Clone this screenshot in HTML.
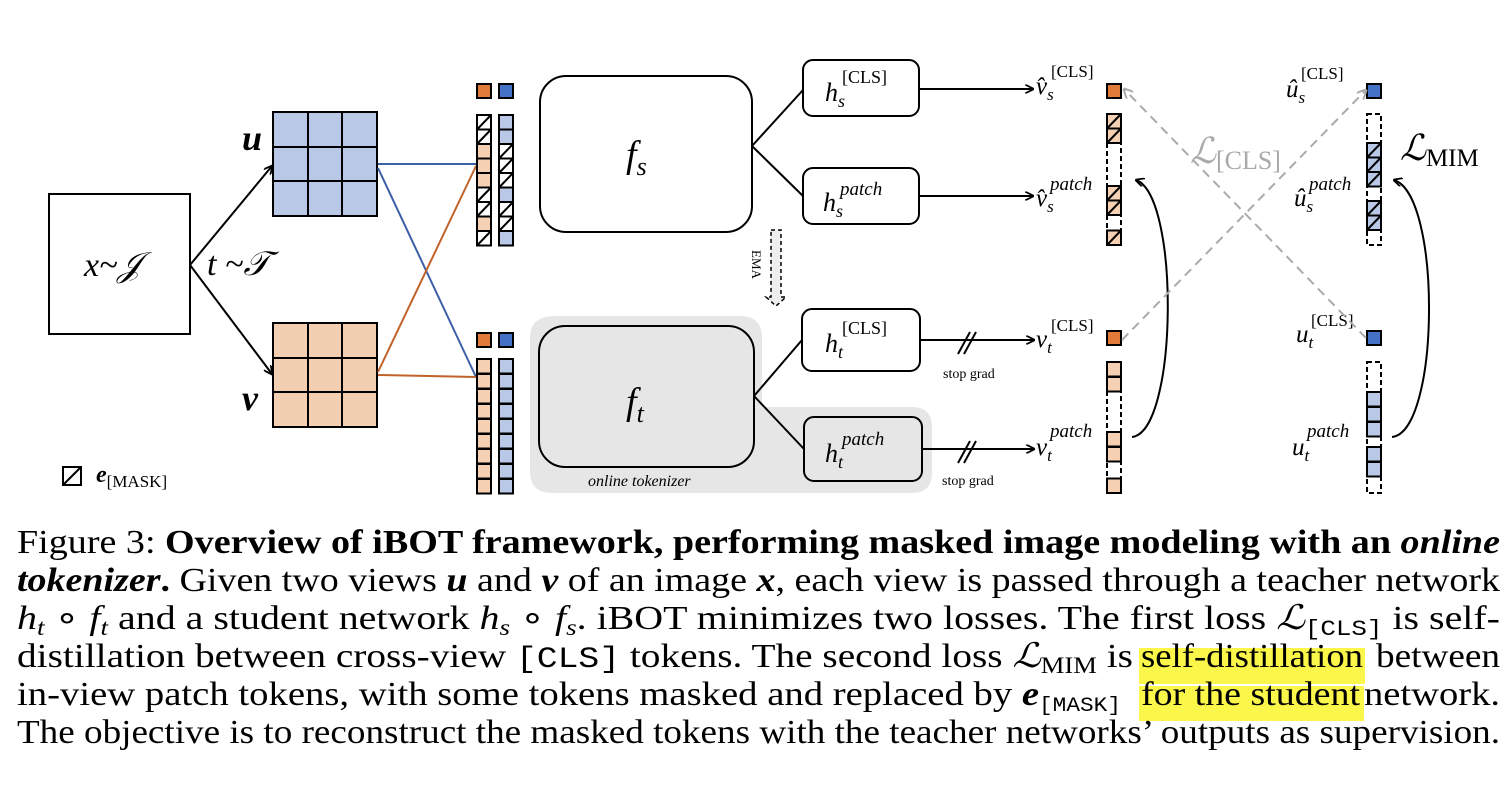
<!DOCTYPE html>
<html><head><meta charset="utf-8"><style>
html,body{margin:0;padding:0;background:#fff;width:1512px;height:786px;overflow:hidden}
svg{display:block}
.m{font-family:"Liberation Serif","DejaVu Serif",serif;font-style:italic}
.c{font-family:"Liberation Serif",serif;font-size:34px;fill:#000}
</style></head><body>
<svg width="1512" height="786" viewBox="0 0 1512 786" xmlns="http://www.w3.org/2000/svg">
<defs>
<marker id="ar" viewBox="0 0 10 10" refX="9" refY="5" markerWidth="9" markerHeight="9" orient="auto" markerUnits="userSpaceOnUse"><path d="M0,0 L10,5 L0,10" fill="none" stroke="#000" stroke-width="2"/></marker>
<marker id="ag" viewBox="0 0 10 10" refX="9" refY="5" markerWidth="10" markerHeight="10" orient="auto" markerUnits="userSpaceOnUse"><path d="M0,0 L10,5 L0,10" fill="none" stroke="#aaa" stroke-width="2"/></marker>
<rect id="o" width="14" height="14.5" fill="#f6d0b2" stroke="#000" stroke-width="2"/>
<rect id="b" width="14" height="14.5" fill="#b8c8e6" stroke="#000" stroke-width="2"/>
<g id="h"><rect width="14" height="14.5" fill="#fff" stroke="#000" stroke-width="2"/><line x1="0" y1="14.5" x2="14" y2="0" stroke="#000" stroke-width="2"/></g>
<g id="ho"><rect width="14" height="14.5" fill="#f6d0b2" stroke="#000" stroke-width="2"/><line x1="0" y1="14.5" x2="14" y2="0" stroke="#000" stroke-width="2"/></g>
<g id="hb"><rect width="14" height="14.5" fill="#b8c8e6" stroke="#000" stroke-width="2"/><line x1="0" y1="14.5" x2="14" y2="0" stroke="#000" stroke-width="2"/></g>
<rect id="co" width="14" height="14" fill="#e07b39" stroke="#000" stroke-width="2"/>
<rect id="cb" width="14" height="14" fill="#4472c4" stroke="#000" stroke-width="2"/>
</defs>

<rect x="49" y="194" width="141" height="140" fill="#fff" stroke="#000" stroke-width="2"/>
<text x="84" y="276" class="m" font-size="34">x~𝒥</text>
<line x1="190" y1="265" x2="272" y2="166" stroke="#000" stroke-width="2" marker-end="url(#ar)"/>
<line x1="190" y1="265" x2="272" y2="374" stroke="#000" stroke-width="2" marker-end="url(#ar)"/>
<text x="207" y="275" class="m" font-size="34">t ~𝒯</text>
<text x="242" y="150" class="m" font-size="36" font-weight="bold">u</text>
<text x="242" y="410" class="m" font-size="36" font-weight="bold">v</text>

<g stroke="#000" stroke-width="2">
<rect x="273" y="112" width="104" height="104" fill="#b8c8e6"/>
<line x1="308" y1="112" x2="308" y2="216"/><line x1="342" y1="112" x2="342" y2="216"/>
<line x1="273" y1="147" x2="377" y2="147"/><line x1="273" y1="181" x2="377" y2="181"/>
<rect x="273" y="323" width="104" height="104" fill="#f2cfb1"/>
<line x1="308" y1="323" x2="308" y2="427"/><line x1="342" y1="323" x2="342" y2="427"/>
<line x1="273" y1="358" x2="377" y2="358"/><line x1="273" y1="392" x2="377" y2="392"/>
</g>
<g stroke-width="2" fill="none">
<line x1="378" y1="164" x2="476" y2="164" stroke="#3d5fa6"/>
<line x1="378" y1="168" x2="476" y2="377" stroke="#3d5fa6"/>
<line x1="378" y1="375" x2="476" y2="377" stroke="#c0622a"/>
<line x1="378" y1="372" x2="476" y2="166" stroke="#c0622a"/>
</g>

<use href="#co" x="477" y="84"/><use href="#cb" x="499" y="84"/>
<use href="#h" x="477" y="115"/><use href="#h" x="477" y="129.5"/><use href="#o" x="477" y="144"/><use href="#o" x="477" y="158.5"/><use href="#o" x="477" y="173"/><use href="#h" x="477" y="187.5"/><use href="#h" x="477" y="202"/><use href="#o" x="477" y="216.5"/><use href="#h" x="477" y="231"/>
<use href="#b" x="499" y="115"/><use href="#b" x="499" y="129.5"/><use href="#h" x="499" y="144"/><use href="#h" x="499" y="158.5"/><use href="#h" x="499" y="173"/><use href="#b" x="499" y="187.5"/><use href="#h" x="499" y="202"/><use href="#h" x="499" y="216.5"/><use href="#b" x="499" y="231"/>
<use href="#co" x="477" y="333"/><use href="#cb" x="499" y="333"/>
<g>
<use href="#o" x="477" y="359"/><use href="#o" x="477" y="374"/><use href="#o" x="477" y="389"/><use href="#o" x="477" y="404"/><use href="#o" x="477" y="419"/><use href="#o" x="477" y="434"/><use href="#o" x="477" y="449"/><use href="#o" x="477" y="464"/><use href="#o" x="477" y="479"/>
<use href="#b" x="499" y="359"/><use href="#b" x="499" y="374"/><use href="#b" x="499" y="389"/><use href="#b" x="499" y="404"/><use href="#b" x="499" y="419"/><use href="#b" x="499" y="434"/><use href="#b" x="499" y="449"/><use href="#b" x="499" y="464"/><use href="#b" x="499" y="479"/>
</g>

<rect x="540" y="76" width="212" height="156" rx="26" fill="#fff" stroke="#000" stroke-width="2"/>
<text x="626" y="167" class="m" font-size="38">f<tspan font-size="26" dy="8">s</tspan></text>
<path d="M555,316 H740 Q762,316 762,338 V407 H912 Q932,407 932,427 V473 Q932,493 912,493 H552 Q530,493 530,471 V338 Q530,316 555,316 Z" fill="#e6e6e6"/>
<rect x="539" y="326" width="215" height="141" rx="26" fill="#e6e6e6" stroke="#000" stroke-width="2"/>
<text x="626" y="414" class="m" font-size="38">f<tspan font-size="26" dy="8">t</tspan></text>
<text x="588" y="486" class="m" font-size="16">online tokenizer</text>

<g stroke="#000" stroke-width="2">
<line x1="752" y1="146" x2="803" y2="90"/><line x1="752" y1="146" x2="803" y2="196"/>
<line x1="754" y1="396" x2="802" y2="340"/><line x1="754" y1="396" x2="804" y2="449"/>
</g>
<g stroke="#000" stroke-width="2">
<rect x="803" y="60" width="116" height="56" rx="10" fill="#fff"/>
<rect x="803" y="168" width="116" height="56" rx="10" fill="#fff"/>
<rect x="802" y="309" width="118" height="62" rx="10" fill="#fff"/>
<rect x="804" y="417" width="118" height="64" rx="10" fill="#e6e6e6"/>
</g>
<text x="825" y="101" class="m" font-size="26">h<tspan font-size="18" dy="6">s</tspan></text><text x="842" y="83" font-family="Liberation Serif" font-size="18">[CLS]</text>
<text x="823" y="211" class="m" font-size="26">h<tspan font-size="18" dy="6">s</tspan></text><text x="840" y="195" class="m" font-size="19">patch</text>
<text x="825" y="352" class="m" font-size="26">h<tspan font-size="18" dy="6">t</tspan></text><text x="842" y="334" font-family="Liberation Serif" font-size="18">[CLS]</text>
<text x="825" y="462" class="m" font-size="26">h<tspan font-size="18" dy="6">t</tspan></text><text x="842" y="445" class="m" font-size="19">patch</text>

<path d="M771,230 H781 V297 H786 L776,306 L766,297 H771 Z" fill="#eee" stroke="#000" stroke-width="1.5" stroke-dasharray="4,3"/>
<text transform="translate(752,250) rotate(90)" font-family="Liberation Serif" font-size="13">EMA</text>

<g stroke="#000" stroke-width="2">
<line x1="919" y1="89" x2="1033" y2="89" marker-end="url(#ar)"/>
<line x1="919" y1="196" x2="1033" y2="196" marker-end="url(#ar)"/>
<line x1="920" y1="340" x2="1034" y2="340" marker-end="url(#ar)"/>
<line x1="922" y1="449" x2="1034" y2="449" marker-end="url(#ar)"/>
<line x1="958" y1="354" x2="970" y2="332"/><line x1="964" y1="354" x2="976" y2="332"/>
<line x1="958" y1="463" x2="970" y2="441"/><line x1="964" y1="463" x2="976" y2="441"/>
</g>
<text x="943" y="378" font-family="Liberation Serif" font-size="14">stop grad</text>
<text x="942" y="485" font-family="Liberation Serif" font-size="14">stop grad</text>

<text x="1036" y="94" class="m" font-size="25">v̂<tspan font-size="17" dy="6">s</tspan></text><text x="1051" y="77" font-family="Liberation Serif" font-size="17">[CLS]</text>
<text x="1036" y="206" class="m" font-size="25">v̂<tspan font-size="17" dy="6">s</tspan></text><text x="1050" y="190" class="m" font-size="19">patch</text>
<text x="1036" y="347" class="m" font-size="25">v<tspan font-size="17" dy="6">t</tspan></text><text x="1051" y="331" font-family="Liberation Serif" font-size="17">[CLS]</text>
<text x="1036" y="455" class="m" font-size="25">v<tspan font-size="17" dy="6">t</tspan></text><text x="1050" y="437" class="m" font-size="19">patch</text>

<text x="1286" y="97" class="m" font-size="25">û<tspan font-size="17" dy="6">s</tspan></text><text x="1301" y="79" font-family="Liberation Serif" font-size="17">[CLS]</text>
<text x="1294" y="206" class="m" font-size="25">û<tspan font-size="17" dy="6">s</tspan></text><text x="1309" y="190" class="m" font-size="19">patch</text>
<text x="1296" y="342" class="m" font-size="25">u<tspan font-size="17" dy="6">t</tspan></text><text x="1311" y="326" font-family="Liberation Serif" font-size="17">[CLS]</text>
<text x="1292" y="455" class="m" font-size="25">u<tspan font-size="17" dy="6">t</tspan></text><text x="1307" y="437" class="m" font-size="19">patch</text>

<g fill="none" stroke="#000" stroke-width="2" stroke-dasharray="5,3">
<rect x="1107" y="114" width="14" height="131"/>
<rect x="1367" y="114" width="14" height="131"/>
<rect x="1107" y="362" width="14" height="131"/>
<rect x="1367" y="362" width="14" height="131"/>
</g>
<use href="#co" x="1107" y="84"/><use href="#cb" x="1367" y="84"/>
<use href="#co" x="1107" y="331"/><use href="#cb" x="1367" y="331"/>
<use href="#ho" x="1107" y="114"/><use href="#ho" x="1107" y="128.5"/><use href="#ho" x="1107" y="186"/><use href="#ho" x="1107" y="200.5"/><use href="#ho" x="1107" y="230.5"/>
<use href="#hb" x="1367" y="143"/><use href="#hb" x="1367" y="157.5"/><use href="#hb" x="1367" y="172"/><use href="#hb" x="1367" y="201"/><use href="#hb" x="1367" y="215.5"/>
<use href="#o" x="1107" y="362"/><use href="#o" x="1107" y="377"/><use href="#o" x="1107" y="432"/><use href="#o" x="1107" y="447"/><use href="#o" x="1107" y="478.5"/>
<use href="#b" x="1367" y="392"/><use href="#b" x="1367" y="407"/><use href="#b" x="1367" y="422"/><use href="#b" x="1367" y="447"/><use href="#b" x="1367" y="462"/>

<path d="M1132,437 C1178,432 1180,195 1136,180" fill="none" stroke="#000" stroke-width="2" marker-end="url(#ar)"/>
<path d="M1392,437 C1440,432 1442,195 1394,180" fill="none" stroke="#000" stroke-width="2" marker-end="url(#ar)"/>

<g stroke="#aaa" stroke-width="2" stroke-dasharray="9,6" fill="none">
<line x1="1122" y1="340" x2="1366" y2="90" marker-end="url(#ag)"/>
<line x1="1366" y1="338" x2="1124" y2="89" marker-end="url(#ag)"/>
</g>
<text x="1190" y="163" font-family="Liberation Serif" font-style="italic" font-size="36" fill="#aaa">ℒ<tspan font-style="normal" font-size="26" dy="6">[CLS]</tspan></text>
<text x="1400" y="160" font-family="Liberation Serif" font-style="italic" font-size="36">ℒ<tspan font-style="normal" font-size="25" dy="6">MIM</tspan></text>

<rect x="63" y="467" width="18" height="18" fill="#fff" stroke="#000" stroke-width="2"/><line x1="63" y1="485" x2="81" y2="467" stroke="#000" stroke-width="2"/>
<text x="96" y="482" class="m" font-size="24" font-weight="bold">e<tspan font-style="normal" font-weight="normal" font-size="17" dy="5">[MASK]</tspan></text>

<rect x="1139" y="648" width="226" height="36" fill="#fbf74a"/>
<rect x="1139" y="686" width="225" height="35" fill="#fbf74a"/>

<text class="c" x="17" y="553" textLength="1483" lengthAdjust="spacingAndGlyphs">Figure 3: <tspan font-weight="bold">Overview of iBOT framework, performing masked image modeling with an </tspan><tspan font-weight="bold" font-style="italic">online</tspan></text>
<text class="c" x="17" y="591" textLength="1483" lengthAdjust="spacingAndGlyphs"><tspan font-weight="bold" font-style="italic">tokenizer</tspan><tspan font-weight="bold">.</tspan> Given two views <tspan font-weight="bold" font-style="italic">u</tspan> and <tspan font-weight="bold" font-style="italic">v</tspan> of an image <tspan font-weight="bold" font-style="italic">x</tspan>, each view is passed through a teacher network</text>
<text class="c" x="17" y="629" textLength="1483" lengthAdjust="spacingAndGlyphs"><tspan font-style="italic">h</tspan><tspan font-style="italic" font-size="23" dy="6">t</tspan><tspan dy="-6"> ∘ </tspan><tspan font-style="italic">f</tspan><tspan font-style="italic" font-size="23" dy="6">t</tspan><tspan dy="-6"> and a student network </tspan><tspan font-style="italic">h</tspan><tspan font-style="italic" font-size="23" dy="6">s</tspan><tspan dy="-6"> ∘ </tspan><tspan font-style="italic">f</tspan><tspan font-style="italic" font-size="23" dy="6">s</tspan><tspan dy="-6">.  iBOT minimizes two losses.  The first loss </tspan><tspan font-style="italic">ℒ</tspan><tspan font-family="Liberation Mono" font-size="22" dy="6">[CLS]</tspan><tspan dy="-6"> is self-</tspan></text>
<text class="c" x="17" y="667" textLength="1116" lengthAdjust="spacingAndGlyphs">distillation between cross-view <tspan font-family="Liberation Mono" font-size="30">[CLS]</tspan> tokens. The second loss <tspan font-style="italic">ℒ</tspan><tspan font-size="23" dy="6">MIM</tspan><tspan dy="-6"> is</tspan></text>
<text class="c" x="1141" y="667" textLength="222" lengthAdjust="spacingAndGlyphs">self-distillation</text>
<text class="c" x="1376" y="667" textLength="124" lengthAdjust="spacingAndGlyphs">between</text>
<text class="c" x="17" y="705" textLength="1104" lengthAdjust="spacingAndGlyphs">in-view patch tokens, with some tokens masked and replaced by <tspan font-weight="bold" font-style="italic">e</tspan><tspan font-family="Liberation Mono" font-size="20" dy="6">[MASK]</tspan></text>
<text class="c" x="1141" y="705" textLength="219" lengthAdjust="spacingAndGlyphs">for the student</text>
<text class="c" x="1364" y="705" textLength="136" lengthAdjust="spacingAndGlyphs">network.</text>
<text class="c" x="17" y="743" textLength="1483" lengthAdjust="spacingAndGlyphs">The objective is to reconstruct the masked tokens with the teacher networks’ outputs as supervision.</text>
</svg>
</body></html>
